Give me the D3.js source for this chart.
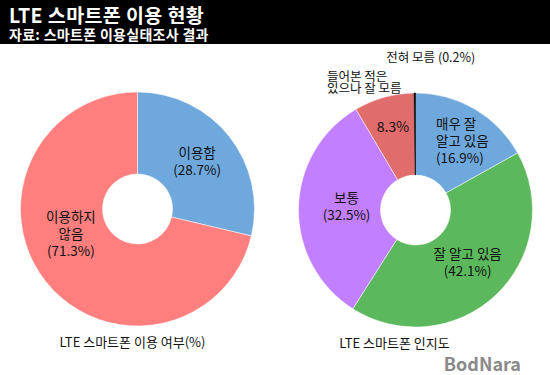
<!DOCTYPE html>
<html>
<head>
<meta charset="utf-8">
<script src="https://cdn.jsdelivr.net/npm/d3@7"></script>
<style>
  body { margin: 0; background: #fff; }
  svg { display: block; }
  text { font-family: "Noto Sans CJK KR", "Noto Sans", sans-serif; }
</style>
</head>
<body>
<div id="chart-area"></div>
<script>
const TITLE = "LTE 스마트폰 이용 현황",
    SUBTITLE = "자료: 스마트폰 이용실태조사 결과";

// left pie - usage
const useNames = ["이용함", "이용하지\n않음"];
const useValues = [28.7, 71.3];
const useColors = ["#6fa8dc", "#ff7f7f"];
const useCaption = "LTE 스마트폰 이용 여부(%)";

// right pie - awareness
const awareNames = ["매우 잘\n알고 있음", "잘 알고 있음", "보통", "", ""];
const awareValues = [16.9, 42.1, 32.5, 8.3, 0.2];
const awareColors = ["#6fa8dc", "#5cb85c", "#c27fff", "#e06c6c", "#000000"];
const awareCaption = "LTE 스마트폰 인지도";
const redNote = ["들어본 적은", "있으나 잘 모름"];
const blackNote = "전혀 모름";

const WIDTH = 550,
    HEIGHT = 375,
    BAR_H = 44,
    R_OUT = 117,
    R_IN = 35,
    R_LABEL = 76,
    LINE_H = 17;

const svg = d3.select("#chart-area")
    .append("svg")
    .attr("width", WIDTH)
    .attr("height", HEIGHT);

// header
svg.append("rect").attr("width", WIDTH).attr("height", BAR_H).attr("fill", "#000");
svg.append("text")
    .attr("x", 9).attr("y", 22.5)
    .attr("fill", "#fff")
    .attr("font-size", 19.5)
    .attr("font-weight", "bold")
    .attr("letter-spacing", 0.4)
    .text(TITLE);
svg.append("text")
    .attr("x", 9).attr("y", 39.5)
    .attr("fill", "#fff")
    .attr("font-size", 14)
    .attr("font-weight", "bold")
    .attr("letter-spacing", 0.3)
    .text(SUBTITLE);

function fmt(v) { return "(" + v.toFixed(1) + "%)"; }

function donut(cx, cy, names, values, colors, caption, nudges, capDx) {
    const g = svg.append("g").attr("transform", `translate(${cx},${cy})`);
    const pie = d3.pie().sort(null).value(d => d);
    const arcs = pie(values);
    const arc = d3.arc().innerRadius(R_IN).outerRadius(R_OUT);
    const labelArc = d3.arc().innerRadius(R_LABEL).outerRadius(R_LABEL);

    g.selectAll("path")
        .data(arcs)
        .join("path")
        .attr("d", arc)
        .attr("fill", (d, i) => colors[i])
        .attr("stroke", (d, i) => colors[i] === "#000000" ? "#000" : "#fff")
        .attr("stroke-width", (d, i) => colors[i] === "#000000" ? 0.6 : 0.5);

    arcs.forEach((d, i) => {
        if (d.value < 1) return;
        const [x, y] = labelArc.centroid(d);
        const nd = nudges[i] || [0, 0];
        let lines = names[i] ? names[i].split("\n").concat([fmt(values[i])]) : [values[i].toFixed(1) + "%"];
        const t = g.append("text")
            .attr("text-anchor", nd[2] || "middle")
            .attr("font-size", 13.5)
            .attr("fill", "#111");
        const y0 = y + nd[1] - (lines.length - 1) * LINE_H / 2;
        lines.forEach((l, k) => {
            t.append("tspan")
                .attr("x", x + nd[0])
                .attr("y", y0 + k * LINE_H)
                .attr("dy", "0.35em")
                .attr("font-size", lines.length === 1 ? 14 : 13.5)
                .text(l);
        });
    });

    g.append("text")
        .attr("x", capDx).attr("y", R_OUT + 21)
        .attr("text-anchor", "middle")
        .attr("font-size", 13)
        .attr("fill", "#111")
        .text(caption);
    return {g, arcs};
}

donut(137.5, 209, useNames, useValues, useColors, useCaption,
    [[0, 0], [-7, -22]], -5);

const right = donut(415.5, 210, awareNames, awareValues, awareColors, awareCaption,
    [[-18, -3, "start"], [0, -2], [7, -2], [-2, -10]], -21);

// outside notes for the two small slices
const outerArc = d3.arc().innerRadius(R_OUT).outerRadius(R_OUT);
const redPos = outerArc.centroid(right.arcs[3]);
const blackPos = outerArc.centroid(right.arcs[4]);
const note1 = right.g.append("text")
    .attr("font-size", 12.5)
    .attr("fill", "#111");
redNote.forEach((l, k) => {
    note1.append("tspan")
        .attr("x", redPos[0] - 57)
        .attr("y", redPos[1] - 21 + k * 12.5)
        .attr("dy", "0.35em")
        .text(l);
});
right.g.append("text")
    .attr("x", blackPos[0] + 16)
    .attr("y", blackPos[1] - 35)
    .attr("dy", "0.35em")
    .attr("text-anchor", "middle")
    .attr("font-size", 12.5)
    .attr("fill", "#111")
    .text(blackNote + " " + fmt(awareValues[4]));

// watermark
svg.append("text")
    .attr("x", 521).attr("y", 371)
    .attr("text-anchor", "end")
    .attr("font-family", "DejaVu Sans")
    .attr("font-size", 18)
    .attr("font-weight", "bold")
    .attr("fill", "#8a8a8a")
    .text("BodNara");
</script>
</body>
</html>
